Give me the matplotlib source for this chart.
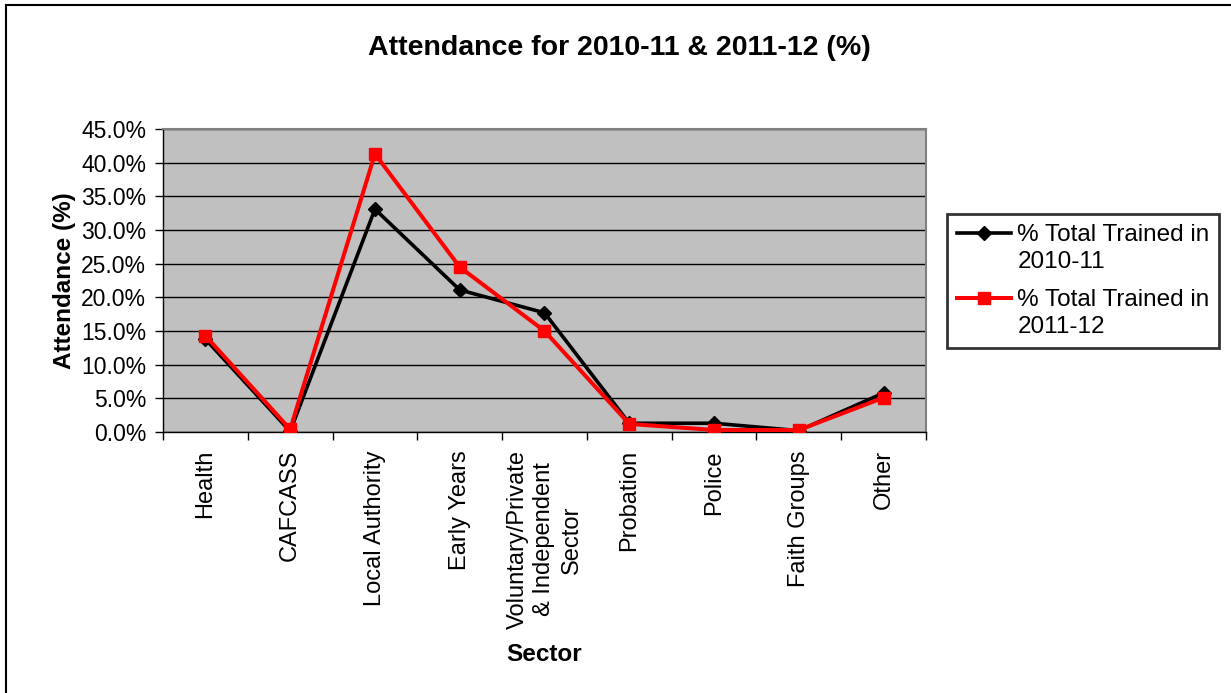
import numpy as np
import matplotlib.pyplot as plt
from matplotlib.lines import Line2D
from matplotlib.legend_handler import HandlerLine2D

plt.rcParams['font.family'] = ['Liberation Sans', 'DejaVu Sans']

sectors = ['Health', 'CAFCASS', 'Local Authority', 'Early Years',
           'Voluntary/Private\n& Independent\nSector', 'Probation', 'Police',
           'Faith Groups', 'Other']
trained_1011 = [13.8, 0.1, 33.1, 21.1, 17.7, 1.3, 1.3, 0.2, 5.8]
trained_1112 = [14.3, 0.4, 41.3, 24.5, 15.0, 1.2, 0.3, 0.3, 5.1]
yticks = np.arange(0, 46, 5)


class FirstLineHandler(HandlerLine2D):
    # puts the legend line next to the first line of a two-line label
    def create_artists(self, legend, orig_handle, xdescent, ydescent,
                       width, height, fontsize, trans):
        arts = super().create_artists(legend, orig_handle, xdescent, ydescent,
                                      width, height, fontsize, trans)
        for a in arts:
            a.set_ydata(np.asarray(a.get_ydata()) + 0.62 * fontsize)
        return arts


fig = plt.figure(figsize=(12.31, 6.93), dpi=100)
ax = fig.add_axes([163 / 1231, 1 - 432 / 693, (926 - 163) / 1231, (432 - 129) / 693])
ax.set_facecolor('#C0C0C0')

x = np.arange(len(sectors))
l1, = ax.plot(x, trained_1011, color='black', lw=2.6, marker='D', ms=7.5,
              label='% Total Trained in\n2010-11', zorder=3)
l2, = ax.plot(x, trained_1112, color='#FF0000', lw=2.9, marker='s', ms=8.5,
              label='% Total Trained in\n2011-12', zorder=4)

ax.set_xlim(-0.5, len(sectors) - 0.5)
ax.set_ylim(0, 45)
ax.set_yticks(yticks)
ax.set_yticklabels([f'{v:.1f}%' for v in yticks], fontsize=16.5)
ax.yaxis.grid(True, color='black', lw=1)
ax.set_axisbelow(True)

# category boundaries carry the tick marks, labels sit in between
ax.set_xticks(np.arange(-0.5, len(sectors), 1))
ax.set_xticklabels([])
ax.set_xticks(x, minor=True)
ax.set_xticklabels(sectors, minor=True, rotation=90, fontsize=17,
                   va='top', ha='center', multialignment='center',
                   linespacing=1.3)
ax.tick_params(axis='x', which='minor', length=0, pad=13)
ax.tick_params(axis='x', which='major', length=6, direction='out', width=1)
ax.tick_params(axis='y', length=6, direction='out', width=1, pad=6)

for side in ['top', 'right']:
    ax.spines[side].set_color('#808080')
    ax.spines[side].set_linewidth(1.5)
for side in ['left', 'bottom']:
    ax.spines[side].set_color('black')
    ax.spines[side].set_linewidth(1)

ax.set_ylabel('Attendance (%)', fontsize=17.5, fontweight='bold', labelpad=4)
ax.set_xlabel('Sector', fontsize=17.5, fontweight='bold', labelpad=10)
fig.text(619 / 1231, 1 - 48 / 693, 'Attendance for 2010-11 & 2011-12 (%)',
         ha='center', va='center', fontsize=20.5, fontweight='bold')

leg = ax.legend(loc='center left', bbox_to_anchor=(947 / 1231, 1 - 281 / 693),
                bbox_transform=fig.transFigure, fontsize=17.5, frameon=True,
                fancybox=False, handlelength=2.25, labelspacing=0.65,
                borderpad=0.4, handletextpad=0.25, borderaxespad=0,
                handler_map={l1: FirstLineHandler(), l2: FirstLineHandler()})
for t in leg.get_texts():
    t.set_linespacing(1.3)
leg.get_frame().set_edgecolor('black')
leg.get_frame().set_linewidth(2)

# outer chart frame (left and top edges)
fig.add_artist(Line2D([6 / 1231, 6 / 1231], [0, 1 - 5 / 693], color='black',
                      lw=1.5, transform=fig.transFigure))
fig.add_artist(Line2D([6 / 1231, 1], [1 - 5 / 693, 1 - 5 / 693], color='black',
                      lw=1.5, transform=fig.transFigure))

fig.savefig('out.png', dpi=100)
